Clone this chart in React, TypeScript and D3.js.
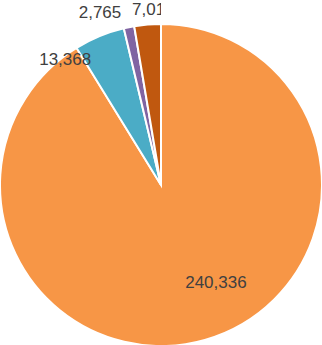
import React from 'react';
import * as d3 from 'd3';

const categories = ['A', 'B', 'C', 'D'];
const values = [240336, 13368, 2765, 7010];
const colors = ['#F79646', '#4BACC6', '#8064A2', '#C0580F'];

const width = 322;
const height = 345;
const radius = 161;
const cx = 161;
const cy = 185;

// nudges from each slice centroid, roughly where Excel's best-fit put them
const labelNudge: [number, number][] = [
  [33, 20],
  [-65, -51],
  [-45, -94],
  [-1, -95],
];

export default function App() {
  const pie = d3
    .pie<number>()
    .sort(null)
    .value((d) => d);
  const arcGen = d3.arc<d3.PieArcDatum<number>>().innerRadius(0).outerRadius(radius);
  const arcs = pie(values);
  const fmt = d3.format(',');

  return (
    <svg
      width={width}
      height={height}
      style={{ position: 'absolute', left: 0, top: 0, background: '#fff' }}
    >
      <defs>
        <clipPath id="lblclip">
          <rect x={0} y={0} width={cx} height={height} />
        </clipPath>
      </defs>
      <g transform={`translate(${cx},${cy})`}>
        {arcs.map((a, i) => (
          <path
            key={categories[i]}
            d={arcGen(a) || ''}
            fill={colors[i]}
            stroke="#fff"
            strokeWidth={2}
          />
        ))}
      </g>
      {arcs.map((a, i) => {
        const [x, y] = arcGen.centroid(a);
        // the last label runs into the chart edge and gets cut, like the original
        const clip = i === arcs.length - 1 ? 'url(#lblclip)' : undefined;
        return (
          <text
            key={'t' + categories[i]}
            x={cx + x + labelNudge[i][0]}
            y={cy + y + labelNudge[i][1]}
            textAnchor="middle"
            dominantBaseline="central"
            fontFamily="Liberation Sans, Arial, sans-serif"
            fontSize={17}
            fill="#404040"
            clipPath={clip}
          >
            {fmt(values[i])}
          </text>
        );
      })}
    </svg>
  );
}
